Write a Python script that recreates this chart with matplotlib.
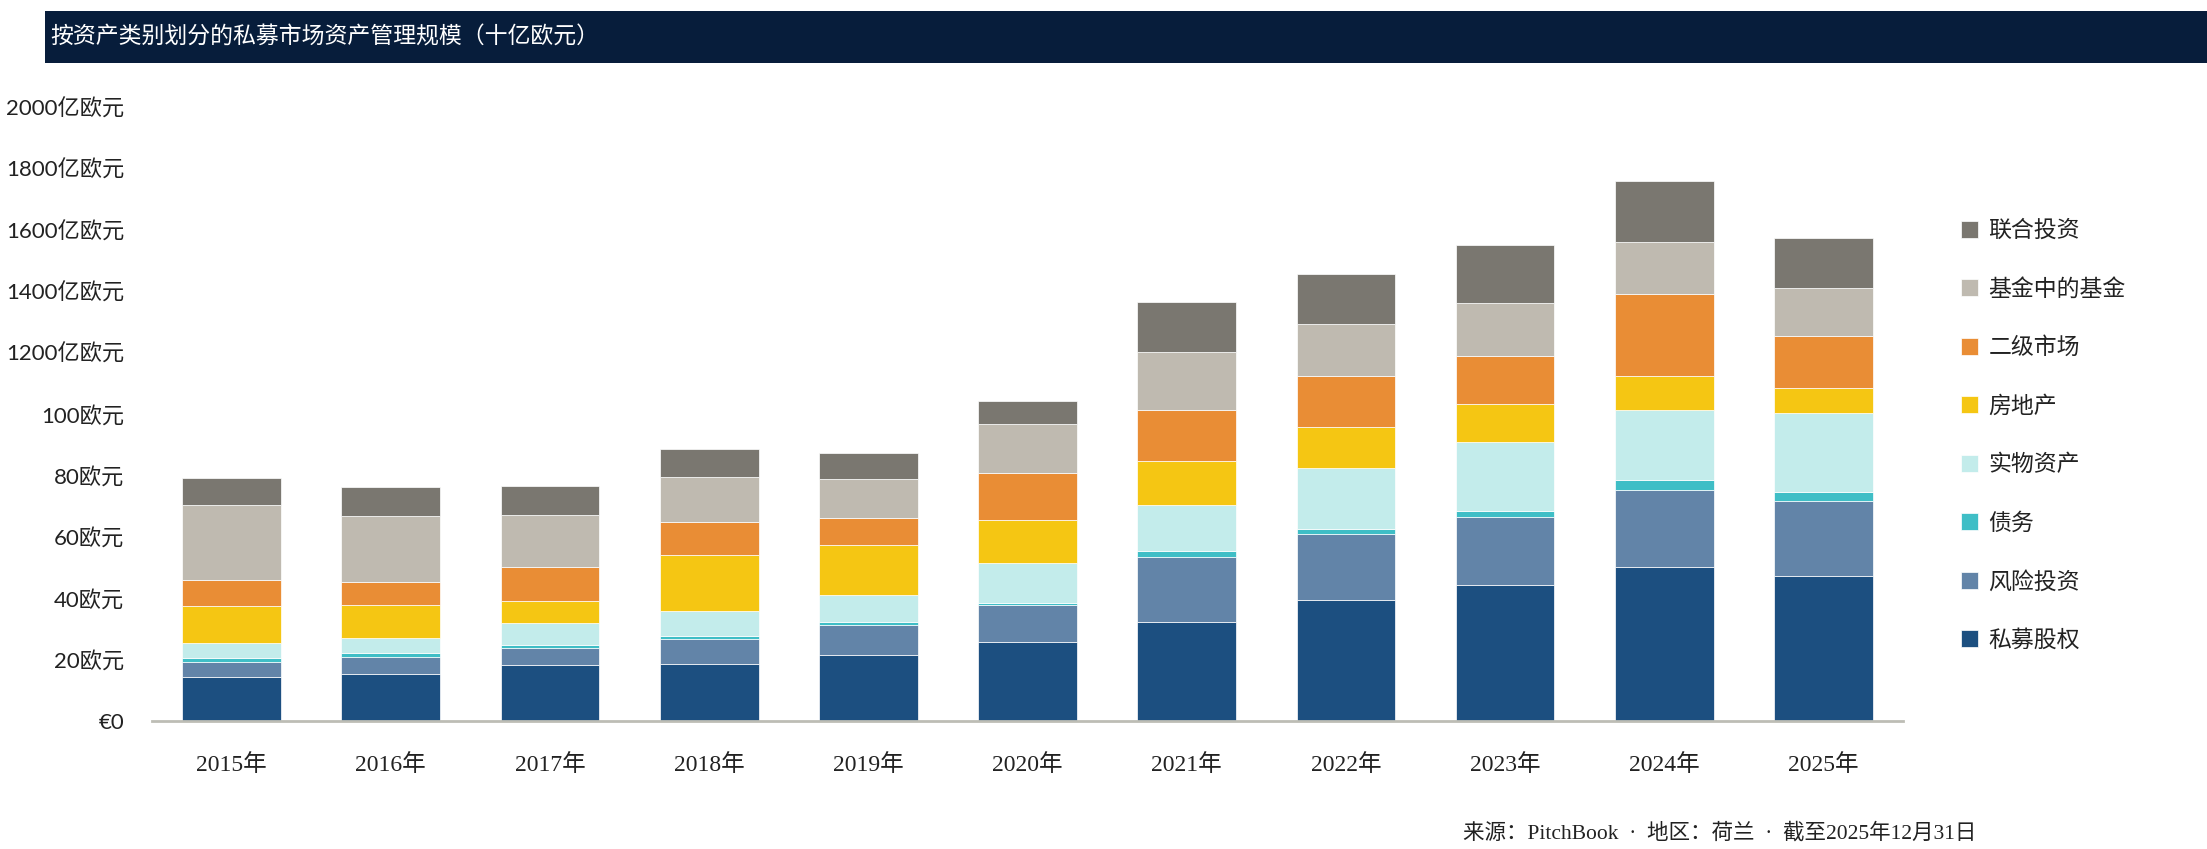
import matplotlib

matplotlib.use("Agg")
import matplotlib.pyplot as plt
from matplotlib.patches import Rectangle

years = ["2015年", "2016年", "2017年", "2018年", "2019年", "2020年",
         "2021年", "2022年", "2023年", "2024年", "2025年"]

# AUM by asset class, EUR billions (bottom to top of each stack)
private_equity = [14.3, 15.3, 18.2, 18.6, 21.5, 25.8, 32.3, 39.5, 44.2, 50.1, 47.1]
venture_capital = [4.9, 5.6, 5.5, 8.0, 9.8, 12.0, 21.2, 21.4, 22.3, 25.2, 24.4]
debt = [1.3, 1.3, 1.0, 1.0, 0.9, 0.7, 1.9, 1.6, 2.0, 3.3, 2.9]
real_assets = [4.9, 4.9, 7.1, 8.2, 8.8, 12.8, 14.8, 20.0, 22.3, 22.7, 25.8]
real_estate = [12.1, 10.7, 7.2, 18.2, 16.3, 14.1, 14.5, 13.2, 12.5, 11.1, 8.2]
secondaries = [8.4, 7.5, 11.0, 10.6, 8.9, 15.3, 16.5, 16.7, 15.7, 26.5, 17.0]
fund_of_funds = [24.3, 21.4, 17.1, 14.9, 12.7, 16.0, 19.1, 16.9, 17.1, 17.2, 15.6]
co_investment = [8.8, 9.3, 9.3, 9.0, 8.5, 7.5, 16.2, 16.2, 19.0, 19.7, 16.4]

series_names = ["私募股权", "风险投资", "债务", "实物资产", "房地产",
                "二级市场", "基金中的基金", "联合投资"]
series_values = [private_equity, venture_capital, debt, real_assets,
                 real_estate, secondaries, fund_of_funds, co_investment]
colors = ["#1c4f80", "#6284a8", "#3fbec6", "#c3eceb", "#f5c613",
          "#e98d35", "#bfbab0", "#7a7770"]

y_ticks = [0, 20, 40, 60, 80, 100, 120, 140, 160, 180, 200]
y_tick_labels = ["€0", "20欧元", "40欧元", "60欧元", "80欧元", "100欧元",
                 "1200亿欧元", "1400亿欧元", "1600亿欧元", "1800亿欧元", "2000亿欧元"]

CJK = "Noto Sans CJK SC"

fig = plt.figure(figsize=(22.07, 8.49), dpi=100)
ax = fig.add_axes([0.0689, 0.1511, 0.7934, 0.7229])

x = range(len(years))
bottom = [0.0] * len(years)
handles = []
for name, vals, c in zip(series_names, series_values, colors):
    h = ax.bar(x, vals, bottom=bottom, width=0.62, color=c,
               edgecolor="white", linewidth=0.5, label=name)
    handles.append(h)
    bottom = [b + v for b, v in zip(bottom, vals)]

ax.set_xlim(-0.5, 10.5)
ax.set_ylim(0, 200)
ax.set_yticks(y_ticks)
ax.set_yticklabels(y_tick_labels, fontsize=16, color="#222222",
                   family=["Lato", CJK])
ax.set_xticks(list(x))
ax.set_xticklabels(years, fontsize=17, color="#222222",
                   family=["Liberation Serif", CJK])
ax.tick_params(axis="y", length=0, pad=20)
ax.tick_params(axis="x", length=0, pad=24)
for s in ["top", "right", "left"]:
    ax.spines[s].set_visible(False)
ax.spines["bottom"].set_color("#bdbdb5")
ax.spines["bottom"].set_linewidth(2)

leg = fig.legend(handles[::-1], series_names[::-1], loc="center left",
                 bbox_to_anchor=(1961 / 2207, 0.487), frameon=False,
                 borderpad=0, borderaxespad=0, labelspacing=1.55,
                 handlelength=0.75, handleheight=0.75, handletextpad=0.45,
                 prop={"family": [CJK], "size": 16.5, "weight": "light"})
for t in leg.get_texts():
    t.set_color("#222222")

# title banner
fig.patches.append(Rectangle((45 / 2207, 1 - 63 / 849), 1, 52 / 849,
                             transform=fig.transFigure, facecolor="#071d3b",
                             edgecolor="none", zorder=0))
fig.text(50 / 2207, 1 - 37 / 849, "按资产类别划分的私募市场资产管理规模（十亿欧元）",
         color="white", fontsize=16.5, va="center", ha="left",
         family=[CJK], fontweight="light")

fig.text(1976 / 2207, 1 - 833 / 849,
         "来源：PitchBook  ·  地区：荷兰  ·  截至2025年12月31日",
         fontsize=15.5, va="center", ha="right", color="#222222",
         family=["Liberation Serif", CJK])

fig.savefig("out.png", dpi=100)
